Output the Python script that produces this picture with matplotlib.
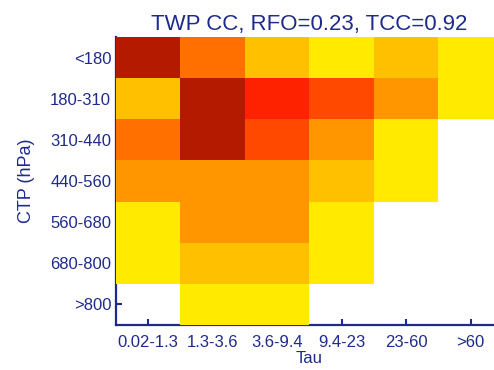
import numpy as np
import matplotlib

matplotlib.use("Agg")
import matplotlib.pyplot as plt
from matplotlib.colors import ListedColormap, BoundaryNorm

# ISCCP-style joint histogram: cloud-top pressure vs optical depth (%)
tau_labels = ["0.02-1.3", "1.3-3.6", "3.6-9.4", "9.4-23", "23-60", ">60"]
ctp_labels = ["<180", "180-310", "310-440", "440-560", "560-680", "680-800", ">800"]

freq = np.array([
    [6.1, 2.4, 0.8, 0.3, 0.7, 0.4],
    [0.9, 7.2, 4.5, 3.4, 1.5, 0.3],
    [2.6, 6.8, 3.6, 1.6, 0.4, 0.0],
    [1.7, 1.9, 1.8, 0.8, 0.3, 0.0],
    [0.4, 1.4, 1.3, 0.3, 0.0, 0.0],
    [0.3, 0.7, 0.6, 0.2, 0.0, 0.0],
    [0.0, 0.3, 0.2, 0.0, 0.0, 0.0],
])

title = "TWP CC, RFO=0.23, TCC=0.92"

navy = "#1f2b8c"
levels = [0.1, 0.5, 1, 2, 3, 4, 5, 10]
colors = ["#ffea00", "#ffc000", "#ff9600", "#ff7000", "#ff4800", "#ff2200", "#b31a00"]
cmap = ListedColormap(colors)
norm = BoundaryNorm(levels, cmap.N)

plt.rcParams["font.family"] = ["Liberation Sans", "DejaVu Sans"]

fig = plt.figure(figsize=(4.94, 3.70), dpi=100)
ax = fig.add_axes([0.2348, 0.1216, 0.783, 0.7784])

data = np.ma.masked_where(freq <= 0, freq)
ax.pcolormesh(np.arange(len(tau_labels) + 1), np.arange(len(ctp_labels) + 1),
              data, cmap=cmap, norm=norm, zorder=3)
ax.set_xlim(0, len(tau_labels))
ax.set_ylim(len(ctp_labels), 0)

ax.set_xticks(np.arange(len(tau_labels)) + 0.5)
ax.set_xticklabels(tau_labels)
ax.set_yticks(np.arange(len(ctp_labels)) + 0.5)
ax.set_yticklabels(ctp_labels)

for side in ("top", "right"):
    ax.spines[side].set_visible(False)
for side in ("left", "bottom"):
    ax.spines[side].set_color(navy)
    ax.spines[side].set_linewidth(1.6)

ax.tick_params(axis="both", direction="in", length=4.5, width=1.5,
               color=navy, labelcolor=navy, labelsize=12)
ax.tick_params(axis="x", pad=7)
ax.tick_params(axis="y", pad=3.5)

ax.set_xlabel("Tau", color=navy, fontsize=12, labelpad=1)
ax.set_ylabel("CTP (hPa)", color=navy, fontsize=13, labelpad=11)
ax.set_title(title, color=navy, fontsize=16, pad=5)

fig.savefig("out.png", dpi=100)
plt.close(fig)
